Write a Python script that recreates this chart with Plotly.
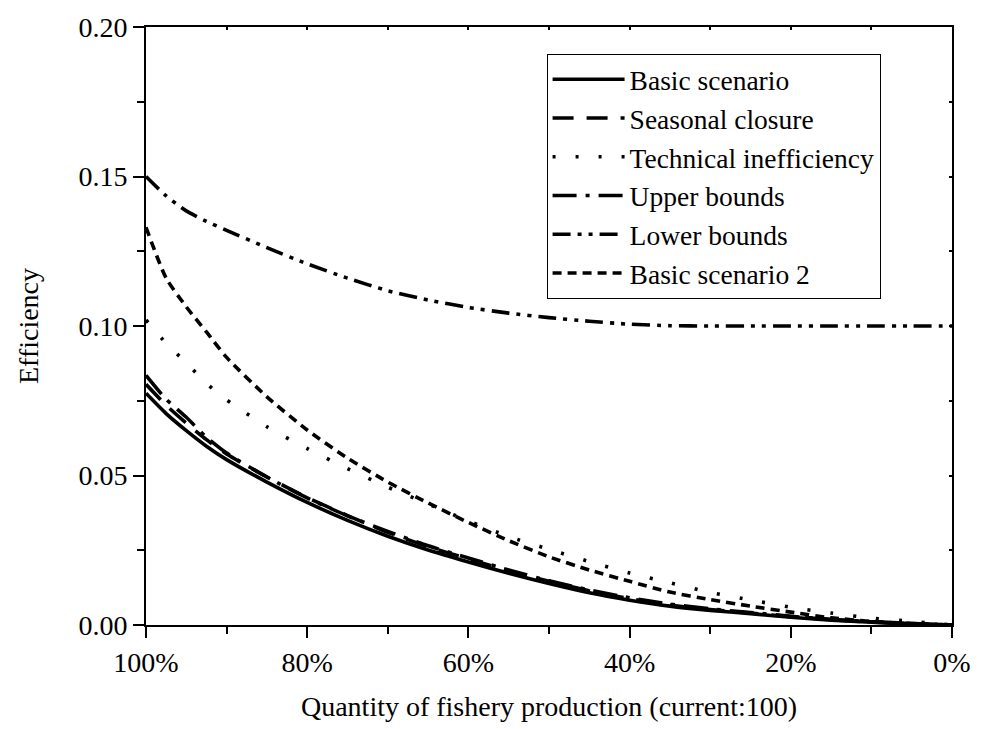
import plotly.graph_objects as go

# Quantity of fishery production (% of current), x axis reversed
x_pct = [100, 97.5, 95, 92.5, 90, 85, 80, 75, 70, 65, 60, 55, 50, 45, 40, 35, 30, 25, 20, 15, 10, 5, 0]

basic_scenario = [0.0775, 0.0707, 0.0650, 0.0598, 0.0553, 0.0478, 0.0410, 0.0350, 0.0297, 0.0251, 0.0211,
                  0.0173, 0.0139, 0.0108, 0.0083, 0.0063, 0.0049, 0.0038, 0.0026, 0.0016, 0.0009, 0.0004, 0.0]
seasonal_closure = [0.0805, 0.0735, 0.0675, 0.0620, 0.0572, 0.0495, 0.0426, 0.0366, 0.0310, 0.0262, 0.0221,
                    0.0181, 0.0146, 0.0114, 0.0088, 0.0067, 0.0052, 0.0040, 0.0028, 0.0018, 0.0010, 0.0005, 0.0]
technical_inefficiency = [0.1020, 0.0942, 0.0877, 0.0808, 0.0753, 0.0663, 0.0590, 0.0523, 0.0461, 0.0405, 0.0348,
                          0.0296, 0.0253, 0.0212, 0.0174, 0.0141, 0.0109, 0.0084, 0.0059, 0.0040, 0.0023, 0.0012, 0.0]
upper_bounds = [0.0835, 0.0755, 0.0695, 0.0628, 0.0575, 0.0495, 0.0425, 0.0365, 0.0313, 0.0265, 0.0224,
                0.0184, 0.0148, 0.0117, 0.0091, 0.0070, 0.0054, 0.0042, 0.0029, 0.0019, 0.0011, 0.0005, 0.0]
lower_bounds = [0.1500, 0.1435, 0.1385, 0.1350, 0.1320, 0.1262, 0.1208, 0.1160, 0.1118, 0.1087, 0.1062,
                0.1043, 0.1028, 0.1016, 0.1006, 0.1001, 0.1000, 0.1000, 0.1000, 0.1000, 0.1000, 0.1000, 0.1000]
basic_scenario_2 = [0.1330, 0.1160, 0.1064, 0.0980, 0.0895, 0.0763, 0.0652, 0.0558, 0.0478, 0.0408, 0.0343,
                    0.0282, 0.0228, 0.0184, 0.0146, 0.0110, 0.0085, 0.0063, 0.0043, 0.0024, 0.0012, 0.0005, 0.0]

x_tick_vals = [100, 80, 60, 40, 20, 0]
x_tick_text = ["100%", "80%", "60%", "40%", "20%", "0%"]
y_tick_vals = [0.00, 0.05, 0.10, 0.15, 0.20]

series = [
    ("Basic scenario", basic_scenario, "solid"),
    ("Seasonal closure", seasonal_closure, "21px,13px"),
    ("Technical inefficiency", technical_inefficiency, "3px,20px"),
    ("Upper bounds", upper_bounds, "24px,9px,4px,9px"),
    ("Lower bounds", lower_bounds, "18px,7px,4px,7px,4px,7px"),
    ("Basic scenario 2", basic_scenario_2, "9px,6px"),
]

FONT = "Liberation Serif, Times New Roman, serif"

fig = go.Figure()
for name, vals, dash in series:
    fig.add_trace(go.Scatter(
        x=x_pct, y=vals, name=name, mode="lines",
        line=dict(color="black", width=3.6, dash=dash, shape="spline", smoothing=0.6),
    ))

# invisible trace to carry the mirrored (inside-tick) top/right axes
fig.add_trace(go.Scatter(x=[x_pct[0], x_pct[-1]], y=[y_tick_vals[0], y_tick_vals[-1]],
                         xaxis="x2", yaxis="y2", mode="lines", opacity=0,
                         showlegend=False, hoverinfo="skip"))

fig.update_layout(
    width=983, height=729,
    margin=dict(l=146, r=21, t=26, b=104),
    paper_bgcolor="white", plot_bgcolor="white",
    font=dict(family=FONT, size=28, color="black"),
    showlegend=True,
    legend=dict(
        x=0.497, y=0.955, xanchor="left", yanchor="top",
        bordercolor="black", borderwidth=1, bgcolor="white",
        font=dict(family=FONT, size=27.5, color="black"),
        tracegroupgap=0, itemwidth=72,
    ),
    xaxis=dict(
        range=[100, 0], tickvals=x_tick_vals, ticktext=x_tick_text,
        ticks="outside", ticklen=11, tickwidth=2, tickcolor="black",
        minor=dict(dtick=10, tick0=0, ticks="outside", ticklen=7, tickwidth=2, tickcolor="black"),
        showline=True, linecolor="black", linewidth=2, mirror=True,
        showgrid=False, zeroline=False,
        tickfont=dict(family=FONT, size=28),
        title=dict(text="Quantity of fishery production (current:100)", standoff=20,
                   font=dict(family=FONT, size=28)),
    ),
    yaxis=dict(
        range=[0, 0.2], tickvals=y_tick_vals, tickformat=".2f",
        ticks="outside", ticklen=11, tickwidth=2, tickcolor="black",
        minor=dict(dtick=0.025, tick0=0, ticks="outside", ticklen=7, tickwidth=2, tickcolor="black"),
        showline=True, linecolor="black", linewidth=2, mirror=True,
        showgrid=False, zeroline=False,
        tickfont=dict(family=FONT, size=28),
        title=dict(text="Efficiency", standoff=32, font=dict(family=FONT, size=28)),
    ),
    xaxis2=dict(
        overlaying="x", side="top", range=[100, 0], dtick=10, tick0=0,
        ticks="inside", ticklen=3, tickwidth=1.5, tickcolor="black",
        showticklabels=False, showgrid=False, zeroline=False, showline=False,
    ),
    yaxis2=dict(
        overlaying="y", side="right", range=[0, 0.2], dtick=0.025, tick0=0,
        ticks="inside", ticklen=3, tickwidth=1.5, tickcolor="black",
        showticklabels=False, showgrid=False, zeroline=False, showline=False,
    ),
)

fig.write_html("out.html")
